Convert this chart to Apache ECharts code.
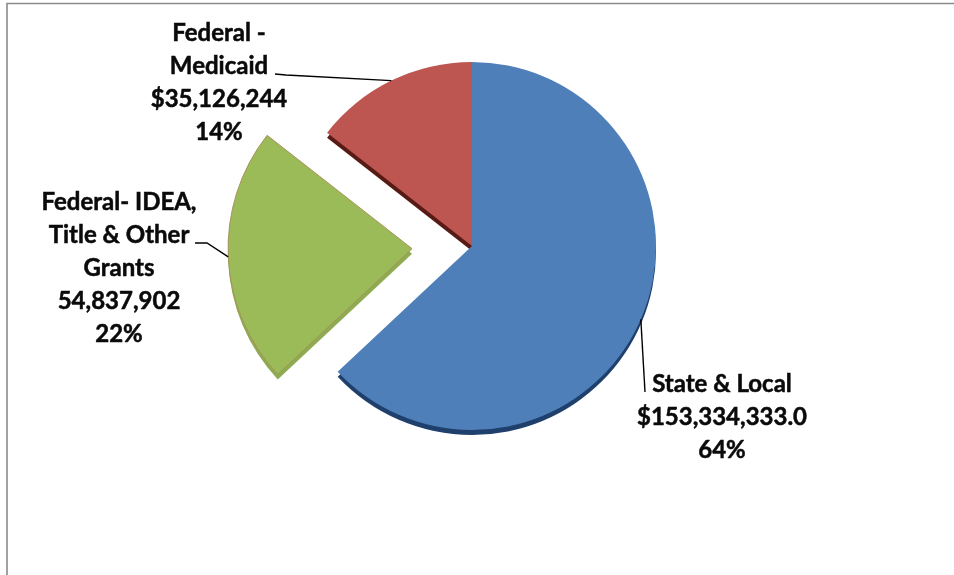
<!DOCTYPE html>
<html><head><meta charset="utf-8">
<style>html,body{margin:0;padding:0;background:#fff}#c{width:954px;height:575px}</style>
<script src="https://cdn.jsdelivr.net/npm/echarts@6/dist/echarts.min.js"></script>
</head><body><div id="c"></div>
<script>
const categories = ['State & Local', 'Federal- IDEA,\nTitle & Other\nGrants', 'Federal -\nMedicaid'];
const amounts = [153334333, 54837902, 35126244];
const amountLabels = ['$153,334,333.0', '54,837,902', '$35,126,244'];
const percentLabels = ['64%', '22%', '14%'];
const topColors = ['#4f7fb9', '#9bbb59', '#bd5550'];
const sideColors = ['#1f3f6c', '#8dab50', '#571a14'];
const edgeColors = ['#4f7fb9', '#a8935a', '#bd5550'];
const labelCenters = [[722, 417], [119, 268], [219, 83]];
const leaderEnds = [[[645, 392]], [[207, 243], [195, 243]], [[286, 75], [275, 74]]];

const pieCenter = [472, 246];
const pieRadius = 184;
const explode = 60;
const total = amounts.reduce((a, b) => a + b, 0);

// leader lines start on the outer edge of each slice, at its mid-angle
let cumulative = 0;
const leaders = amounts.map((v, i) => {
  const mid = (cumulative + v / 2) / total * 2 * Math.PI;
  cumulative += v;
  const r = pieRadius + (i === 1 ? explode : 0);
  const start = [pieCenter[0] + r * Math.sin(mid), pieCenter[1] - r * Math.cos(mid)];
  return {
    type: 'polyline', z: 10, silent: true,
    shape: {points: [start].concat(leaderEnds[i])},
    style: {fill: 'none', stroke: '#000', lineWidth: 1.4}
  };
});

const chart = echarts.init(document.getElementById('c'), null, {renderer: 'canvas'});
const base = {
  type: 'pie', radius: pieRadius, clockwise: true, startAngle: 90,
  selectedMode: 'single', selectedOffset: explode, animation: false, silent: true,
  label: {show: false}, labelLine: {show: false}
};
function rows(colors, borders) {
  return categories.map((name, i) => ({
    name, value: amounts[i], selected: i === 1,
    itemStyle: {color: colors[i], borderColor: borders ? borders[i] : colors[i], borderWidth: borders && i === 1 ? 1 : 0},
    select: {itemStyle: {color: colors[i], borderColor: borders ? borders[i] : colors[i], borderWidth: borders && i === 1 ? 1 : 0}}
  }));
}
chart.setOption({
  backgroundColor: '#fff',
  graphic: [
    {type: 'rect', shape: {x: 7, y: 3.5, width: 960, height: 600}, style: {fill: 'none', stroke: '#8a8a8a', lineWidth: 1.6}, z: -1}
  ].concat(leaders),
  series: [
    Object.assign({}, base, {center: [pieCenter[0], pieCenter[1] + 5], data: rows(sideColors), z: 1}),
    Object.assign({}, base, {center: pieCenter, data: rows(topColors, edgeColors), z: 2}),
    {
      type: 'pie', radius: pieRadius, center: pieCenter, clockwise: true, startAngle: 90,
      animation: false, silent: true, z: 12,
      itemStyle: {color: 'rgba(0,0,0,0)'},
      data: categories.map((name, i) => ({
        name, value: amounts[i],
        label: {formatter: name + '\n' + amountLabels[i] + '\n' + percentLabels[i]}
      })),
      label: {show: true, position: 'outside', fontFamily: 'Lato', fontWeight: 'bold', fontSize: 24, lineHeight: 33, color: '#0a0a0a', textBorderColor: '#0a0a0a', textBorderWidth: 0.5, align: 'center', verticalAlign: 'middle'},
      labelLine: {show: false},
      labelLayout: p => {
        const c = labelCenters[p.dataIndex];
        return {x: c[0], y: c[1], align: 'center', verticalAlign: 'middle'};
      }
    }
  ]
});
</script></body></html>
